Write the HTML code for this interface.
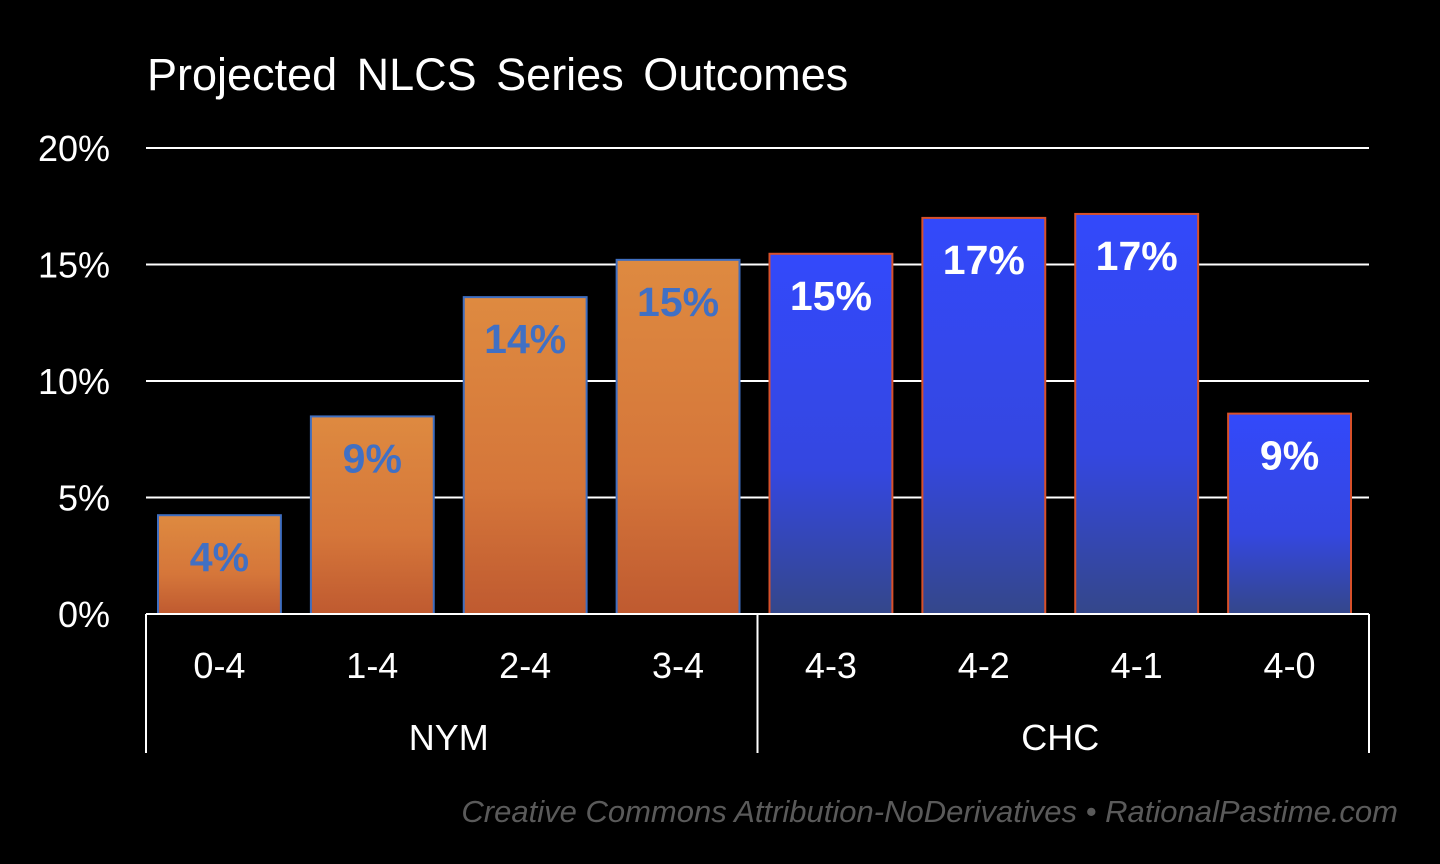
<!DOCTYPE html>
<html><head><meta charset="utf-8"><style>
html,body{margin:0;padding:0;background:#000;width:1440px;height:864px;overflow:hidden}
svg{display:block}
</style></head><body>
<svg width="1440" height="864">
<defs>
<linearGradient id="go" x1="0" y1="0" x2="0" y2="1"><stop offset="0" stop-color="#de8a40"/><stop offset="0.6" stop-color="#d5763a"/><stop offset="1" stop-color="#bf5a30"/></linearGradient>
<linearGradient id="gb" x1="0" y1="0" x2="0" y2="1"><stop offset="0" stop-color="#3349fb"/><stop offset="0.6" stop-color="#3447e0"/><stop offset="1" stop-color="#34478a"/></linearGradient>
</defs>
<text x="147" y="90" fill="#fff" font-family="Liberation Sans, sans-serif" font-size="45" word-spacing="7">Projected NLCS Series Outcomes</text>
<g id="grid"></g><g id="bars"></g><g id="axis"></g>
<text x="1398" y="822" text-anchor="end" fill="#5a5a5a" font-family="Liberation Sans, sans-serif" font-style="italic" font-size="31">Creative Commons Attribution-NoDerivatives • RationalPastime.com</text>
</svg>
<script>
const categories=["0-4","1-4","2-4","3-4","4-3","4-2","4-1","4-0"];
const values=[4.24,8.48,13.6,15.2,15.46,17.0,17.17,8.6];
const labels=["4%","9%","14%","15%","15%","17%","17%","9%"];
const teams=["NYM","NYM","NYM","NYM","CHC","CHC","CHC","CHC"];
const groups=["NYM","CHC"];
const yTicks=[0,5,10,15,20];
const NS="http://www.w3.org/2000/svg";
const x0=146,x1=1369,y0=614,yTop=148,yMax=20;
const step=(x1-x0)/categories.length;
function y(v){return y0-(v/yMax)*(y0-yTop);}
function mk(t,a,p,txt){const e=document.createElementNS(NS,t);for(const k in a)e.setAttribute(k,a[k]);if(txt!==undefined)e.textContent=txt;p.appendChild(e);return e;}
const grid=document.getElementById('grid'),bars=document.getElementById('bars'),axis=document.getElementById('axis');
yTicks.forEach(t=>{
 if(t>0){const l=mk('line',{x1:x0,x2:x1,y1:y(t),y2:y(t),stroke:'#fff','stroke-width':2},grid);
 
 }
 const tx=mk('text',{x:110,y:y(t)+13,'text-anchor':'end',fill:'#fff','font-family':'Liberation Sans, sans-serif','font-size':36},grid,t+'%');
 
 
});
categories.forEach((c,i)=>{
 const nym=teams[i]==="NYM";
 const bx=x0+i*step+12,bw=step-30;
 const r=mk('rect',{x:bx,y:y(values[i]),width:bw,height:y0-y(values[i]),fill:nym?'url(#go)':'url(#gb)',stroke:nym?'#3f6ec0':'#d8502a','stroke-width':2},bars);
 
 
 const lt=mk('text',{x:bx+bw/2,y:y(values[i])+56,'text-anchor':'middle',fill:nym?'#4170c4':'#fff','font-family':'Liberation Sans, sans-serif','font-weight':'bold','font-size':41},bars,labels[i]);
 
 
 const ct=mk('text',{x:x0+i*step+step/2-3,y:678,'text-anchor':'middle',fill:'#fff','font-family':'Liberation Sans, sans-serif','font-size':36},axis,c);
 
 
});
const base=mk('line',{x1:x0,x2:x1,y1:y0,y2:y0,stroke:'#fff','stroke-width':2},axis);


[x0,x0+4*step,x1].forEach((xx,k)=>{const v=mk('line',{x1:xx,x2:xx,y1:y0,y2:753,stroke:'#fff','stroke-width':2},axis);
 
 });
groups.forEach((g,k)=>{const t=mk('text',{x:x0+(k*4+2)*step-3,y:750,'text-anchor':'middle',fill:'#fff','font-family':'Liberation Sans, sans-serif','font-size':36},axis,g);
 
 });
</script>
</body></html>
